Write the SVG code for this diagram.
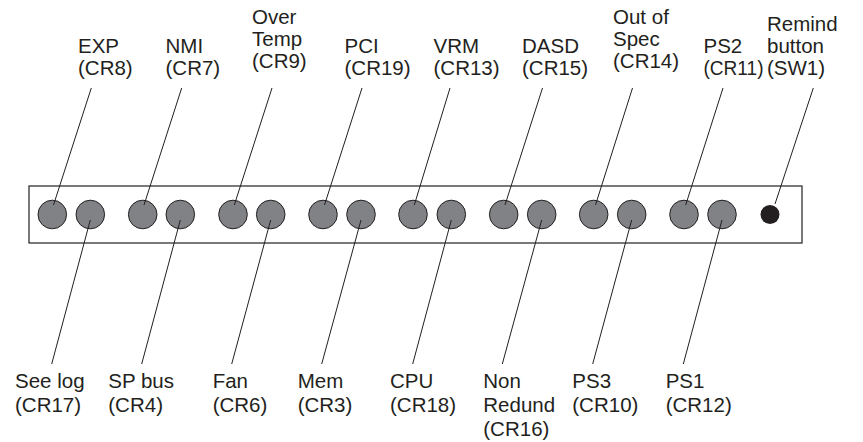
<svg xmlns="http://www.w3.org/2000/svg" width="863" height="442" viewBox="0 0 863 442">
<style>
.t{font-family:"Liberation Sans",Arial,sans-serif;font-size:20.5px;fill:#231f20}
.led{fill:#808285;stroke:#231f20;stroke-width:1}
.ln{stroke:#231f20;stroke-width:1;fill:none}
</style>
<rect width="863" height="442" fill="#fff"/>
<g id="panel">
<rect x="29" y="186" width="773" height="57" fill="#fff" stroke="#231f20" stroke-width="1.2"/>
</g>
<g id="leds">
<circle class="led" cx="52.3" cy="214.5" r="14.3"/>
<circle class="led" cx="90.3" cy="214.5" r="14.3"/>
<circle class="led" cx="142.7" cy="214.5" r="14.3"/>
<circle class="led" cx="180.3" cy="214.5" r="14.3"/>
<circle class="led" cx="233" cy="214.5" r="14.3"/>
<circle class="led" cx="270.7" cy="214.5" r="14.3"/>
<circle class="led" cx="323" cy="214.5" r="14.3"/>
<circle class="led" cx="361" cy="214.5" r="14.3"/>
<circle class="led" cx="413" cy="214.5" r="14.3"/>
<circle class="led" cx="451.3" cy="214.5" r="14.3"/>
<circle class="led" cx="503.7" cy="214.5" r="14.3"/>
<circle class="led" cx="541.7" cy="214.5" r="14.3"/>
<circle class="led" cx="593.7" cy="214.5" r="14.3"/>
<circle class="led" cx="631.7" cy="214.5" r="14.3"/>
<circle class="led" cx="684" cy="214.5" r="14.3"/>
<circle class="led" cx="722" cy="214.5" r="14.3"/>
<circle id="sw1" cx="770" cy="214.5" r="9.5" fill="#231f20"/>
</g>
<g id="connectors" class="ln">
<line x1="91.3" y1="88" x2="53.5" y2="205"/>
<line x1="181.7" y1="88" x2="144" y2="205"/>
<line x1="272" y1="88" x2="234.3" y2="205"/>
<line x1="362" y1="88" x2="324.5" y2="205"/>
<line x1="450" y1="88" x2="414.3" y2="205"/>
<line x1="542.5" y1="88" x2="505" y2="205"/>
<line x1="632.5" y1="88" x2="595.5" y2="205"/>
<line x1="723" y1="88" x2="685.7" y2="205"/>
<line x1="813.3" y1="88" x2="775" y2="204"/>
<line x1="90.3" y1="220" x2="51.7" y2="364"/>
<line x1="180.3" y1="220" x2="141.7" y2="364"/>
<line x1="270.7" y1="220" x2="231.7" y2="364"/>
<line x1="361" y1="220" x2="321.7" y2="364"/>
<line x1="451.3" y1="220" x2="412.7" y2="364"/>
<line x1="541.7" y1="220" x2="502.3" y2="364"/>
<line x1="631.7" y1="220" x2="592.7" y2="364"/>
<line x1="722" y1="220" x2="683.3" y2="364"/>
</g>
<g id="lbl-exp"><text class="t" x="78" y="53">EXP</text><text class="t" x="78" y="75">(CR8)</text></g>
<g id="lbl-nmi"><text class="t" x="165.5" y="53">NMI</text><text class="t" x="165.5" y="75">(CR7)</text></g>
<g id="lbl-overtemp"><text class="t" x="252" y="24">Over</text><text class="t" x="252" y="46">Temp</text><text class="t" x="252" y="68">(CR9)</text></g>
<g id="lbl-pci"><text class="t" x="344.5" y="53">PCI</text><text class="t" x="344.5" y="75">(CR19)</text></g>
<g id="lbl-vrm"><text class="t" x="433.5" y="53">VRM</text><text class="t" x="433.5" y="75">(CR13)</text></g>
<g id="lbl-dasd"><text class="t" x="522" y="53">DASD</text><text class="t" x="522" y="75">(CR15)</text></g>
<g id="lbl-outofspec"><text class="t" x="613" y="24">Out of</text><text class="t" x="613" y="46">Spec</text><text class="t" x="613" y="68">(CR14)</text></g>
<g id="lbl-ps2"><text class="t" x="703.5" y="53">PS2</text><text class="t" x="703.5" y="75" textLength="60" lengthAdjust="spacingAndGlyphs">(CR11)</text></g>
<g id="lbl-remind"><text class="t" x="767" y="31">Remind</text><text class="t" x="767" y="53">button</text><text class="t" x="767" y="75">(SW1)</text></g>
<g id="lbl-seelog"><text class="t" x="15" y="388">See log</text><text class="t" x="15" y="412">(CR17)</text></g>
<g id="lbl-spbus"><text class="t" x="108.3" y="388">SP bus</text><text class="t" x="108.3" y="412">(CR4)</text></g>
<g id="lbl-fan"><text class="t" x="212.7" y="388">Fan</text><text class="t" x="212.7" y="412">(CR6)</text></g>
<g id="lbl-mem"><text class="t" x="297.7" y="388">Mem</text><text class="t" x="297.7" y="412">(CR3)</text></g>
<g id="lbl-cpu"><text class="t" x="390" y="388">CPU</text><text class="t" x="390" y="412">(CR18)</text></g>
<g id="lbl-nonredund"><text class="t" x="483.3" y="388">Non</text><text class="t" x="483.3" y="412">Redund</text><text class="t" x="483.3" y="436">(CR16)</text></g>
<g id="lbl-ps3"><text class="t" x="572.3" y="388">PS3</text><text class="t" x="572.3" y="412">(CR10)</text></g>
<g id="lbl-ps1"><text class="t" x="665.7" y="388">PS1</text><text class="t" x="665.7" y="412">(CR12)</text></g>
</svg>
